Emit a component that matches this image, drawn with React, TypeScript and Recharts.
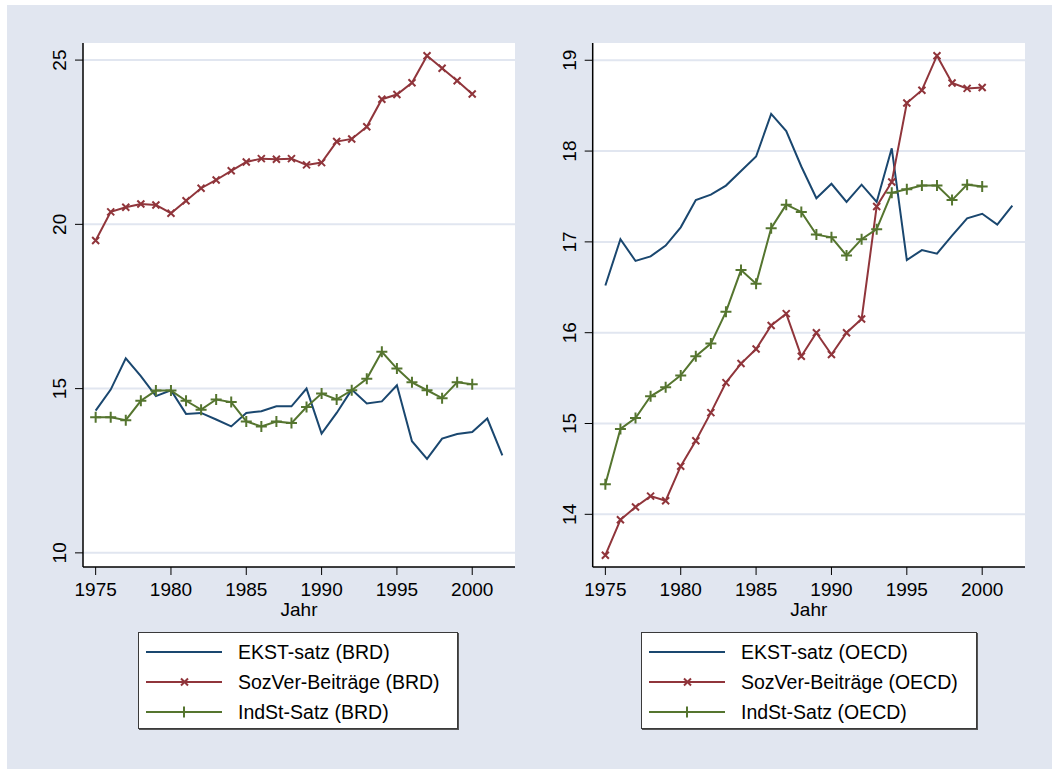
import React from "react";
import { LineChart, Line, XAxis, YAxis, CartesianGrid } from "recharts";

// Jahre und Reihen
const years = [
  1975, 1976, 1977, 1978, 1979, 1980, 1981, 1982, 1983, 1984, 1985, 1986, 1987, 1988,
  1989, 1990, 1991, 1992, 1993, 1994, 1995, 1996, 1997, 1998, 1999, 2000, 2001, 2002,
];

const ekstBRD = [
  14.33, 14.97, 15.92, 15.38, 14.77, 14.95, 14.23, 14.26, 14.06, 13.85, 14.26, 14.31, 14.46, 14.46,
  15.0, 13.63, 14.26, 14.97, 14.55, 14.61, 15.1, 13.4, 12.86, 13.48, 13.62, 13.68, 14.09, 12.97,
];
const sozBRD = [
  19.51, 20.38, 20.52, 20.62, 20.59, 20.34, 20.72, 21.1, 21.35, 21.63, 21.9, 22.0, 21.98, 22.0,
  21.81, 21.88, 22.52, 22.6, 22.97, 23.81, 23.95, 24.31, 25.13, 24.75, 24.37, 23.97,
];
const indBRD = [
  14.13, 14.13, 14.04, 14.63, 14.94, 14.94, 14.63, 14.36, 14.67, 14.59, 14.0, 13.85, 14.0, 13.95,
  14.44, 14.85, 14.67, 14.95, 15.3, 16.12, 15.61, 15.19, 14.95, 14.71, 15.19, 15.13,
];

const ekstOECD = [
  16.52, 17.03, 16.79, 16.84, 16.96, 17.16, 17.46, 17.52, 17.62, 17.78, 17.94, 18.41, 18.22, 17.83,
  17.48, 17.64, 17.44, 17.63, 17.44, 18.03, 16.8, 16.91, 16.87, 17.07, 17.26, 17.31, 17.19, 17.4,
];
const sozOECD = [
  13.55, 13.94, 14.08, 14.2, 14.15, 14.53, 14.81, 15.12, 15.45, 15.66, 15.82, 16.08, 16.21, 15.74,
  16.0, 15.76, 16.0, 16.15, 17.39, 17.66, 18.53, 18.67, 19.05, 18.75, 18.69, 18.7,
];
const indOECD = [
  14.33, 14.94, 15.06, 15.3, 15.4, 15.53, 15.74, 15.88, 16.23, 16.69, 16.54, 17.15, 17.41, 17.33,
  17.08, 17.05, 16.85, 17.03, 17.14, 17.54, 17.58, 17.62, 17.62, 17.46, 17.63, 17.61,
];

const xTicks = [1975, 1980, 1985, 1990, 1995, 2000];
const yTicksBRD = [10, 15, 20, 25];
const yTicksOECD = [14, 15, 16, 17, 18, 19];

const BLUE = "#1a476f";
const RED = "#90353b";
const GREEN = "#55752f";
const BG = "#e1e6f0";
const FONT = "'Liberation Sans', Arial, sans-serif";

function buildRows(ekst: number[], soz: number[], ind: number[]) {
  return years.map((year, i) => ({
    year,
    ekst: ekst[i] ?? null,
    soz: soz[i] ?? null,
    ind: ind[i] ?? null,
  }));
}

function CrossDot(props: any) {
  const { cx, cy, index } = props;
  if (cx == null || cy == null || props.value == null) return <g key={index} />;
  const s = 3.5;
  return (
    <path
      key={index}
      d={`M${cx - s},${cy - s}L${cx + s},${cy + s}M${cx - s},${cy + s}L${cx + s},${cy - s}`}
      stroke={RED}
      strokeWidth={2}
      fill="none"
    />
  );
}

function PlusDot(props: any) {
  const { cx, cy, index } = props;
  if (cx == null || cy == null || props.value == null) return <g key={index} />;
  const s = 5.5;
  return (
    <path
      key={index}
      d={`M${cx - s},${cy}L${cx + s},${cy}M${cx},${cy - s}L${cx},${cy + s}`}
      stroke={GREEN}
      strokeWidth={2}
      fill="none"
    />
  );
}

function YTick(props: any) {
  const { x, y, payload } = props;
  return (
    <text
      transform={`translate(${x - 9},${y}) rotate(-90)`}
      textAnchor="middle"
      fontSize={19}
      fontFamily={FONT}
      fill="#000"
    >
      {payload.value}
    </text>
  );
}

function LegendBox({ tag, width }: { tag: string; width: number }) {
  const items = [
    { label: `EKST-satz (${tag})`, color: BLUE, marker: null },
    { label: `SozVer-Beiträge (${tag})`, color: RED, marker: "x" },
    { label: `IndSt-Satz (${tag})`, color: GREEN, marker: "+" },
  ];
  return (
    <div
      style={{
        width,
        height: 97,
        boxSizing: "border-box",
        background: "#fff",
        border: "1px solid #3a3a3a",
        boxShadow: "1px 1px 0 #555",
        paddingTop: 4,
        fontFamily: FONT,
        fontSize: 19.5,
      }}
    >
      {items.map((it) => (
        <div key={it.label} style={{ height: 30, display: "flex", alignItems: "center" }}>
          <svg width={92} height={30} style={{ marginLeft: 7 }}>
            <line x1={0} y1={15} x2={76} y2={15} stroke={it.color} strokeWidth={2} />
            {it.marker === "x" && (
              <path d="M35,11.5L42,18.5M35,18.5L42,11.5" stroke={it.color} strokeWidth={2} />
            )}
            {it.marker === "+" && (
              <path d="M32.5,15L43.5,15M38,9.5L38,20.5" stroke={it.color} strokeWidth={2} />
            )}
          </svg>
          <span style={{ color: "#000", whiteSpace: "nowrap" }}>{it.label}</span>
        </div>
      ))}
    </div>
  );
}

function Panel({
  rows,
  yDomain,
  yTicks,
  width,
  marginLeft,
  marginRight,
}: {
  rows: any[];
  yDomain: [number, number];
  yTicks: number[];
  width: number;
  marginLeft: number;
  marginRight: number;
}) {
  return (
    <LineChart
      width={width}
      height={640}
      data={rows}
      margin={{ top: 43, right: marginRight, bottom: 13, left: marginLeft }}
    >
      <CartesianGrid vertical={false} stroke={BG} strokeWidth={2} fill="#fff" horizontalValues={yTicks} />
      <XAxis
        type="number"
        dataKey="year"
        domain={[1974.16, 2002.84]}
        ticks={xTicks}
        allowDataOverflow
        height={60}
        tickSize={8}
        tickMargin={8}
        stroke="#000"
        tick={{ fontSize: 19, fill: "#000", fontFamily: FONT }}
        axisLine={{ stroke: "#000", strokeWidth: 1.5 }}
        label={{ value: "Jahr", position: "insideBottom", offset: 11, fontSize: 19, fill: "#000", fontFamily: FONT }}
      />
      <YAxis
        type="number"
        domain={yDomain}
        ticks={yTicks}
        allowDataOverflow
        width={50}
        tickSize={8}
        tickMargin={0}
        stroke="#000"
        tick={<YTick />}
        axisLine={{ stroke: "#000", strokeWidth: 1.5 }}
      />
      <Line dataKey="ekst" stroke={BLUE} strokeWidth={2} dot={false} isAnimationActive={false} />
      <Line dataKey="soz" stroke={RED} strokeWidth={2} dot={<CrossDot />} isAnimationActive={false} />
      <Line dataKey="ind" stroke={GREEN} strokeWidth={2} dot={<PlusDot />} isAnimationActive={false} />
    </LineChart>
  );
}

export default function App() {
  const rowsBRD = buildRows(ekstBRD, sozBRD, indBRD);
  const rowsOECD = buildRows(ekstOECD, sozOECD, indOECD);
  return (
    <div style={{ position: "absolute", left: 0, top: 0, width: 1052, height: 769, background: "#fff" }}>
      <div style={{ position: "absolute", left: 7, top: 5, width: 1045, height: 764, background: BG }} />
      <div style={{ position: "absolute", left: 0, top: 0 }}>
        <Panel rows={rowsBRD} yDomain={[9.57, 25.52]} yTicks={yTicksBRD} width={540} marginLeft={33} marginRight={25} />
      </div>
      <div style={{ position: "absolute", left: 540, top: 0 }}>
        <Panel rows={rowsOECD} yDomain={[13.42, 19.19]} yTicks={yTicksOECD} width={512} marginLeft={2.7} marginRight={27} />
      </div>
      <div style={{ position: "absolute", left: 138, top: 632 }}>
        <LegendBox tag="BRD" width={320} />
      </div>
      <div style={{ position: "absolute", left: 641, top: 632 }}>
        <LegendBox tag="OECD" width={336} />
      </div>
    </div>
  );
}
